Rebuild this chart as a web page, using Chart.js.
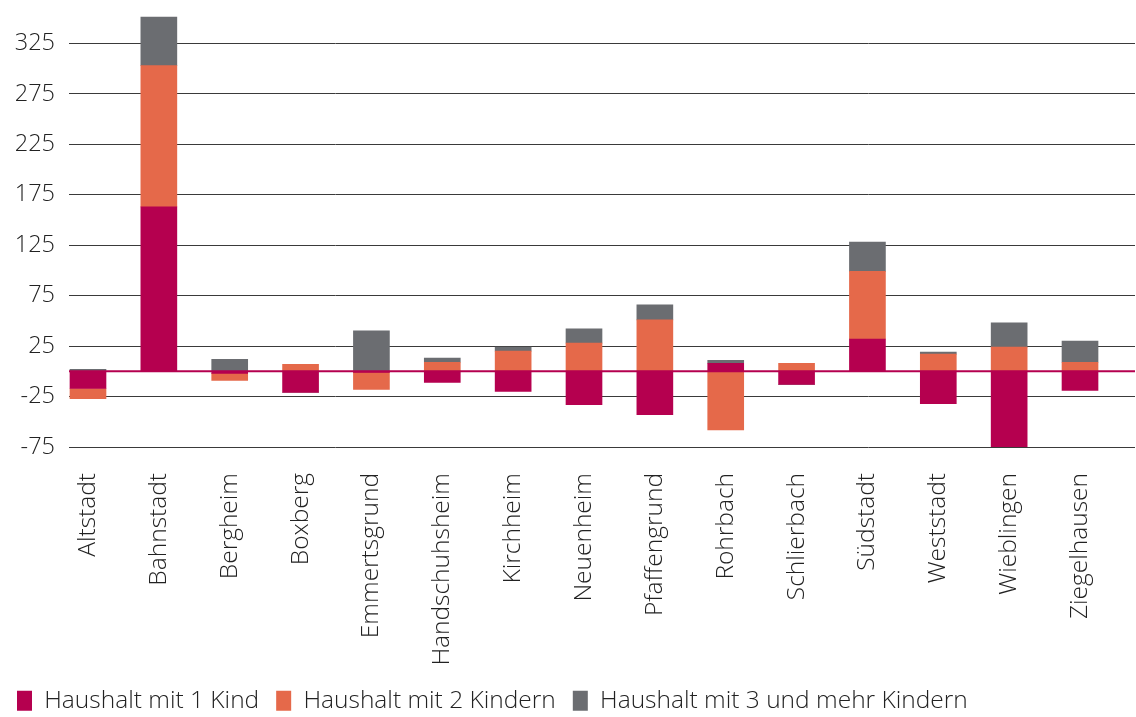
<!DOCTYPE html>
<html>
<head>
<meta charset="utf-8">
<script src="https://cdn.jsdelivr.net/npm/chart.js@4"></script>
<style>
  html, body { margin: 0; padding: 0; background: #fff; }
  #wrap { width: 1136px; height: 717px; }
</style>
</head>
<body>
<div id="wrap"><canvas id="chart" width="1136" height="717"></canvas></div>
<script>
// Stadtteile
const districts = ['Altstadt', 'Bahnstadt', 'Bergheim', 'Boxberg', 'Emmertsgrund', 'Handschuhsheim',
  'Kirchheim', 'Neuenheim', 'Pfaffengrund', 'Rohrbach', 'Schlierbach', 'Südstadt', 'Weststadt',
  'Wieblingen', 'Ziegelhausen'];

// Veränderung je Haushaltstyp
const oneChild = [-17, 163, -2, -21, -1, -11, -20, -33, -43, 8, -13, 32, -32, -77, -19];
const twoChildren = [-10, 140, -7, 7, -17, 9, 20, 28, 51, -58, 8, 67, 17, 24, 9];
const threePlus = [2, 48, 12, 0, 40, 4, 4, 14, 15, 3, 0, 29, 2, 24, 21];

const yTicks = [-75, -25, 25, 75, 125, 175, 225, 275, 325];

const seriesNames = ['Haushalt mit 1 Kind', 'Haushalt mit 2 Kindern', 'Haushalt mit 3 und mehr Kindern'];
const colors = ['#b5004f', '#e5694a', '#6b6d71'];

const family = "'Open Sans', sans-serif";
const yFont = { family, size: 23.5, weight: 300 };
const xFont = { family, size: 24.5, weight: 300 };
const padBottom = -6;
const plotBottom = 447;

// Nulllinie über den Balken
const zeroLine = {
  id: 'zeroLine',
  afterDatasetsDraw(chart) {
    const { ctx, chartArea, scales } = chart;
    const y = scales.y.getPixelForValue(0);
    ctx.save();
    ctx.strokeStyle = '#b5004f';
    ctx.lineWidth = 2;
    ctx.beginPath();
    ctx.moveTo(chartArea.left, y);
    ctx.lineTo(chartArea.right, y);
    ctx.stroke();
    ctx.restore();
  }
};

const toPoints = arr => arr.map((v, i) => ({ x: i, y: v }));

const ctx = document.getElementById('chart').getContext('2d');
new Chart(ctx, {
  type: 'bar',
  data: {
    datasets: [oneChild, twoChildren, threePlus].map((arr, k) => ({
      label: seriesNames[k],
      data: toPoints(arr),
      backgroundColor: colors[k],
      barThickness: 36,
      borderWidth: 0
    }))
  },
  options: {
    responsive: false,
    animation: false,
    layout: { padding: { top: 3, right: 1, left: 0, bottom: padBottom } },
    plugins: {
      legend: {
        position: 'bottom',
        align: 'start',
        labels: {
          font: xFont,
          color: '#222',
          boxWidth: 15,
          boxHeight: 20,
          padding: 17
        }
      },
      tooltip: { enabled: false }
    },
    scales: {
      x: {
        type: 'linear',
        stacked: true,
        offset: false,
        min: -0.268,
        max: 14.776,
        grid: { display: false },
        border: { display: false },
        afterBuildTicks: axis => { axis.ticks = districts.map((_, i) => ({ value: i })); },
        afterFit: axis => {
          axis.height = axis.chart.height - plotBottom - axis.chart.legend.height - padBottom;
          axis.paddingLeft = 0;
          axis.paddingRight = 0;
        },
        ticks: {
          font: xFont,
          color: '#222',
          minRotation: 90,
          maxRotation: 90,
          padding: 18,
          autoSkip: false,
          callback: v => districts[v]
        }
      },
      y: {
        stacked: true,
        min: -75,
        max: 365,
        afterBuildTicks: axis => { axis.ticks = yTicks.map(v => ({ value: v })); },
        afterFit: axis => {
          axis.width = 69;
          axis.paddingTop = 0;
          axis.paddingBottom = 0;
        },
        border: { display: false },
        grid: { color: '#3a3a3a', lineWidth: 1, drawTicks: false },
        ticks: { font: yFont, color: '#222', padding: 14 }
      }
    }
  },
  plugins: [zeroLine]
});
</script>
</body>
</html>
